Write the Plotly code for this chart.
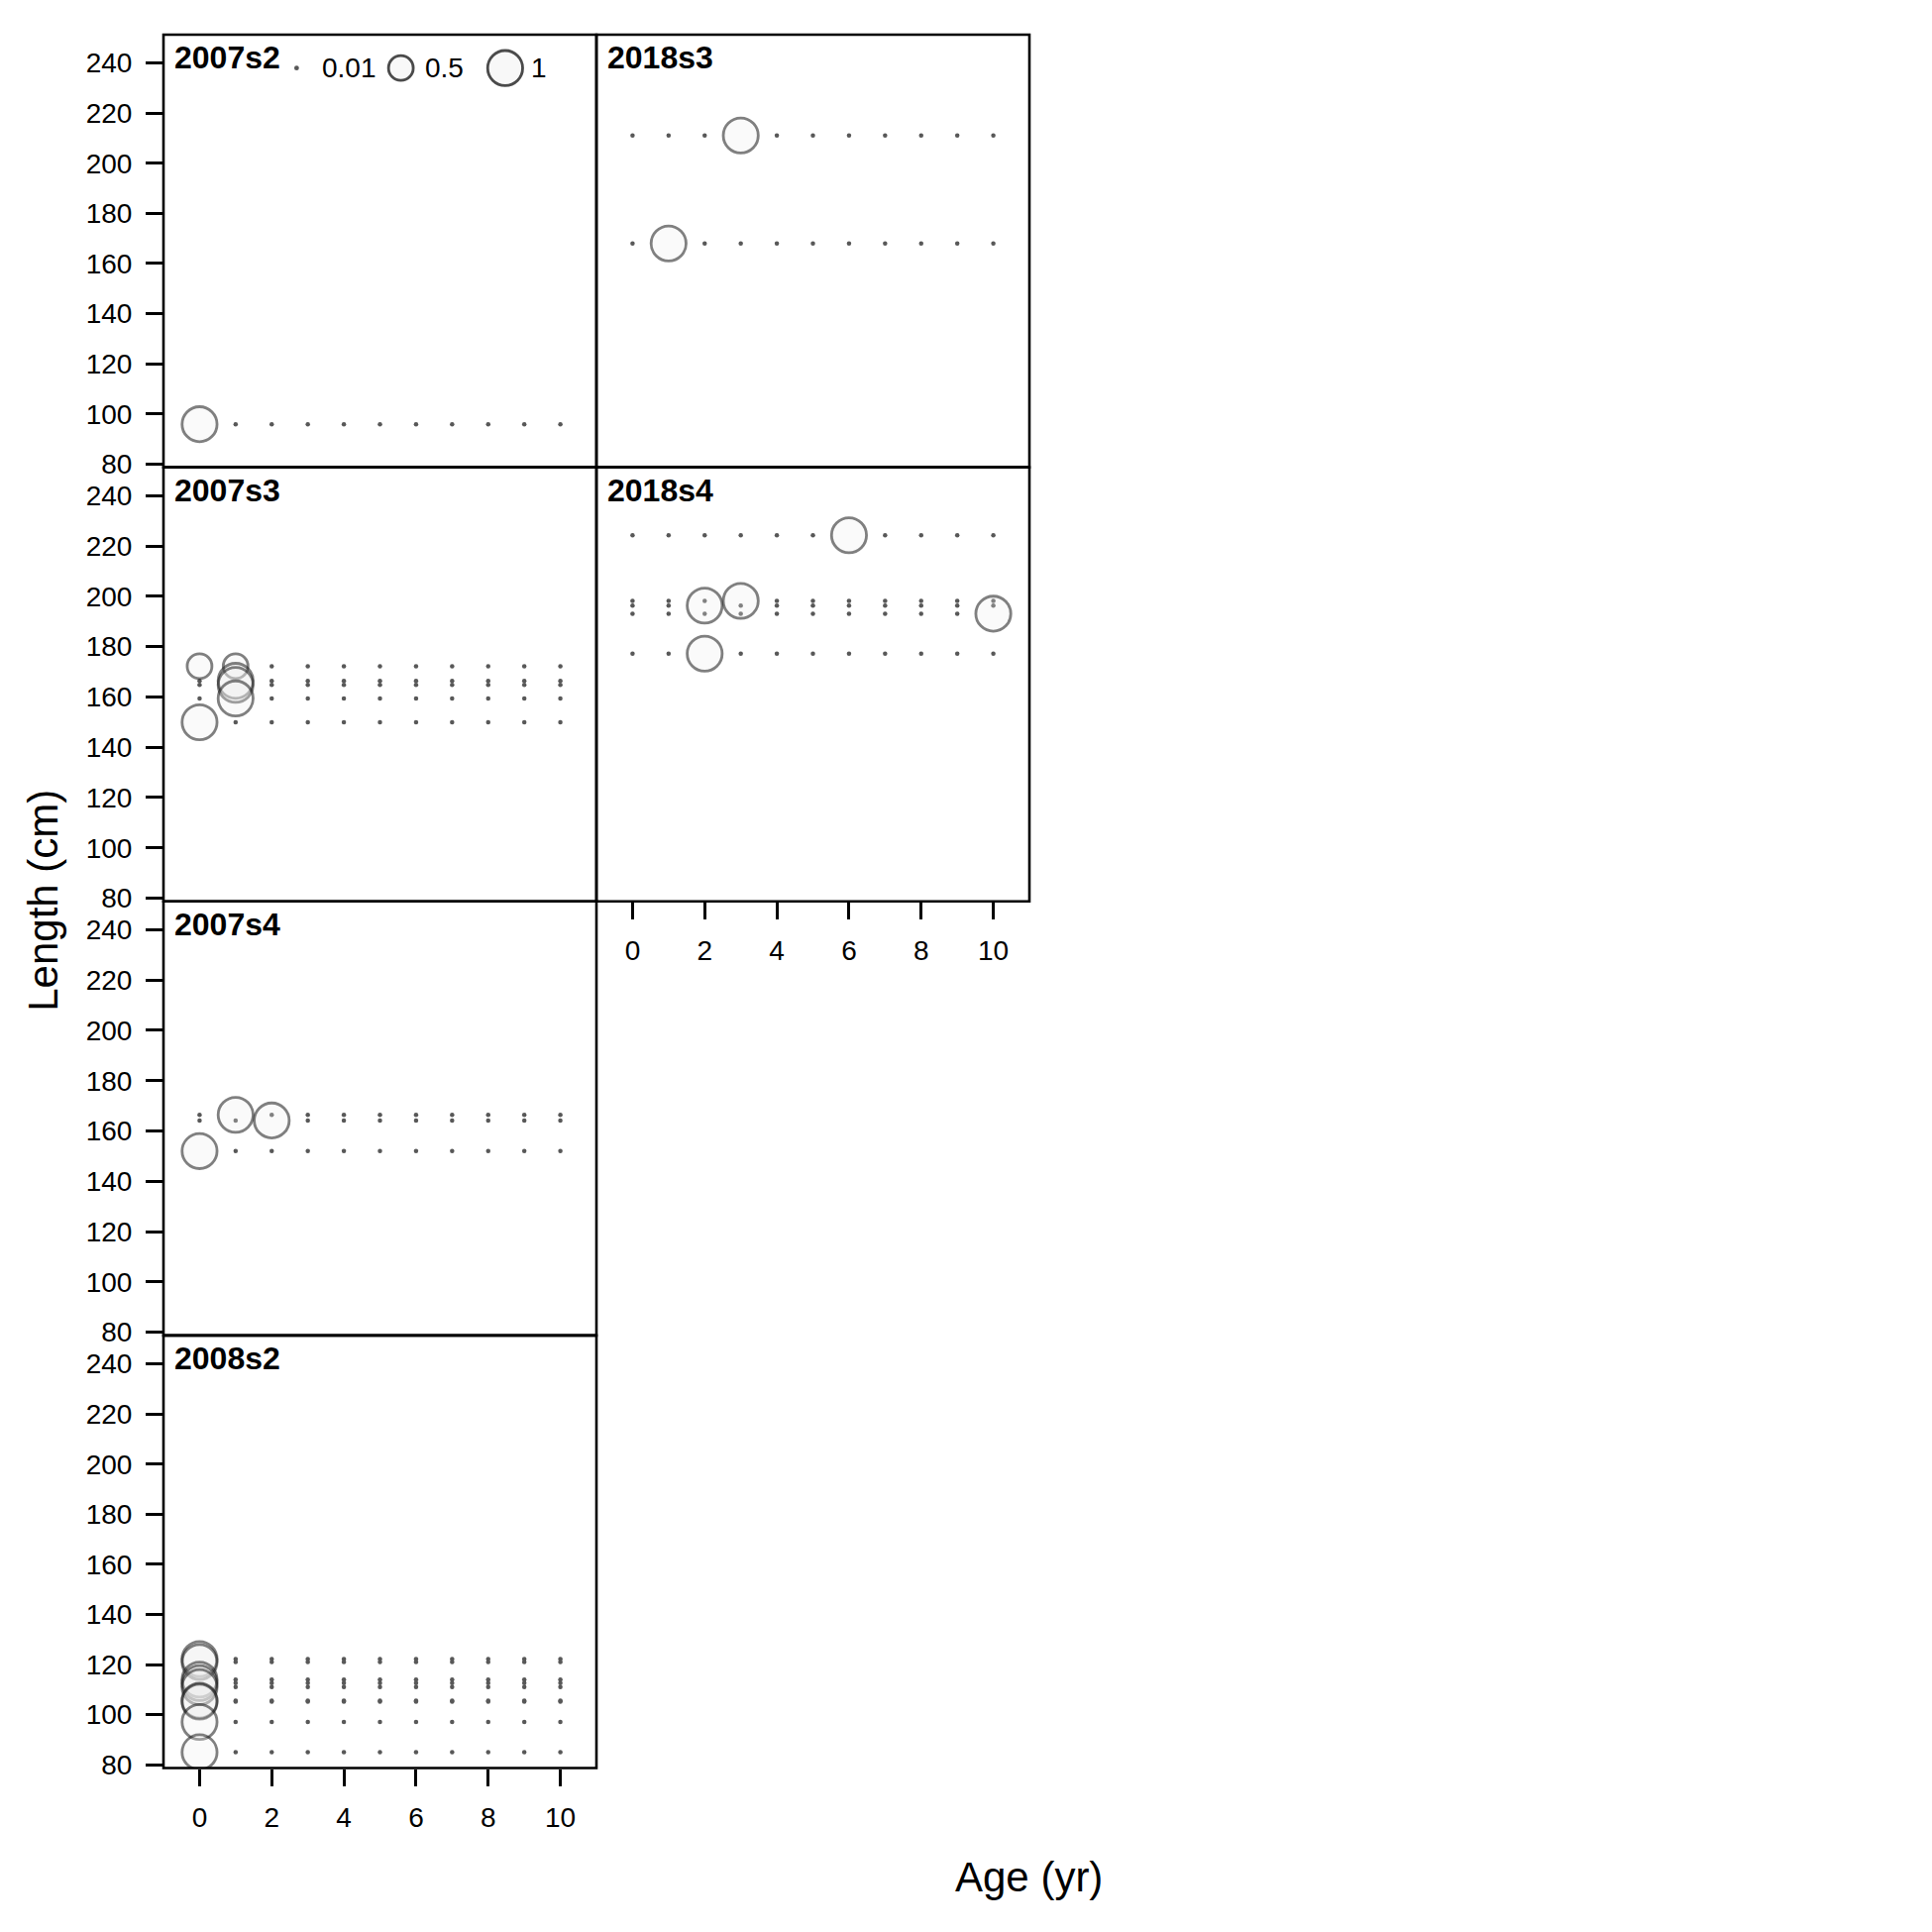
import plotly.graph_objects as go

# ---------------- data ----------------
ages = [0, 1, 2, 3, 4, 5, 6, 7, 8, 9, 10]
panel_names = ["2007s2", "2007s3", "2007s4", "2008s2", "2018s3", "2018s4"]

len_2007s2 = [95.9]
prop_2007s2 = [[1, 0, 0, 0, 0, 0, 0, 0, 0, 0, 0]]

len_2007s3 = [172.2, 166.4, 164.8, 159.4, 149.9]
prop_2007s3 = [
    [0.5, 0.5, 0, 0, 0, 0, 0, 0, 0, 0, 0],
    [0, 1, 0, 0, 0, 0, 0, 0, 0, 0, 0],
    [0, 1, 0, 0, 0, 0, 0, 0, 0, 0, 0],
    [0, 1, 0, 0, 0, 0, 0, 0, 0, 0, 0],
    [1, 0, 0, 0, 0, 0, 0, 0, 0, 0, 0],
]

len_2007s4 = [166.4, 164.2, 152.0]
prop_2007s4 = [
    [0, 1, 0, 0, 0, 0, 0, 0, 0, 0, 0],
    [0, 0, 1, 0, 0, 0, 0, 0, 0, 0, 0],
    [1, 0, 0, 0, 0, 0, 0, 0, 0, 0, 0],
]

len_2008s2 = [122.2, 121.0, 114.0, 112.6, 111.0, 105.6, 105.2, 97.1, 85.0]
prop_2008s2 = [[1, 0, 0, 0, 0, 0, 0, 0, 0, 0, 0] for _ in len_2008s2]

len_2018s3 = [211.1, 168.0]
prop_2018s3 = [
    [0, 0, 0, 1, 0, 0, 0, 0, 0, 0, 0],
    [0, 1, 0, 0, 0, 0, 0, 0, 0, 0, 0],
]

len_2018s4 = [224.3, 198.2, 196.3, 193.1, 177.2]
prop_2018s4 = [
    [0, 0, 0, 0, 0, 0, 1, 0, 0, 0, 0],
    [0, 0, 0, 1, 0, 0, 0, 0, 0, 0, 0],
    [0, 0, 1, 0, 0, 0, 0, 0, 0, 0, 0],
    [0, 0, 0, 0, 0, 0, 0, 0, 0, 0, 1],
    [0, 0, 1, 0, 0, 0, 0, 0, 0, 0, 0],
]

legend_values = [0.01, 0.5, 1]
legend_labels = ["0.01", "0.5", "1"]

x_ticks = [0, 2, 4, 6, 8, 10]
y_ticks = [80, 100, 120, 140, 160, 180, 200, 220, 240]

panel_lengths = [len_2007s2, len_2007s3, len_2007s4, len_2008s2, len_2018s3, len_2018s4]
panel_props = [prop_2007s2, prop_2007s3, prop_2007s4, prop_2008s2, prop_2018s3, prop_2018s4]

# ---------------- layout geometry ----------------
W = 1950
H = 1950
KY = 1.0065  # vertical correction factor
col_x = [(165, 602), (602, 1039)]
row_y = [(35, 471.5), (471.5, 909.5), (909.5, 1347.5), (1347.5, 1784)]
panel_pos = [(0, 0), (0, 1), (0, 2), (0, 3), (1, 0), (1, 1)]
bottom_panels = {3, 5}
left_panels = {0, 1, 2, 3}

XR = [-1, 11]
YR = [78.7, 251.3]
FONT = "Liberation Sans, Arial, sans-serif"
LINE_COL = "rgba(30,30,30,0.8)"
FILL_COL = "rgba(238,238,238,0.4)"
DOT_COL = "rgb(88,88,88)"
FULL = 35.3


def py(y):
    return 1 - y * KY / H


def px(x):
    return x / W


def bsize(p):
    return FULL * p ** 0.5


fig = go.Figure()
layout = dict(
    width=W, height=H, margin=dict(l=0, r=0, t=0, b=0),
    paper_bgcolor="white", plot_bgcolor="white", showlegend=False,
    font=dict(family=FONT, color="black", size=28),
)
annotations = []
shapes = []

for i, name in enumerate(panel_names):
    c, r = panel_pos[i]
    sfx = "" if i == 0 else str(i + 1)
    xa, ya = "x" + sfx, "y" + sfx
    x0, x1 = col_x[c]
    y0, y1 = row_y[r]
    bottom = i in bottom_panels
    left = i in left_panels
    layout["xaxis" + sfx] = dict(
        domain=[px(x0), px(x1)], range=XR, anchor=ya,
        showgrid=False, zeroline=False, showline=False,
        ticks="outside" if bottom else "", tickvals=x_ticks, ticklen=17,
        tickwidth=2.5, tickcolor="black", showticklabels=bottom,
        tickfont=dict(size=28, family=FONT), ticklabelstandoff=8,
    )
    layout["yaxis" + sfx] = dict(
        domain=[py(y1), py(y0)], range=YR, anchor=xa,
        showgrid=False, zeroline=False, showline=False,
        ticks="outside" if left else "", tickvals=y_ticks, ticklen=17,
        tickwidth=2.5, tickcolor="black", showticklabels=left,
        tickfont=dict(size=28, family=FONT), ticklabelstandoff=8,
    )
    shapes.append(dict(type="rect", xref="paper", yref="paper",
                       x0=px(x0), x1=px(x1), y0=py(y1), y1=py(y0),
                       line=dict(color="black", width=2.6), layer="above"))

    lens = panel_lengths[i]
    props = panel_props[i]
    dx, dy, bx, by, bs = [], [], [], [], []
    for L, row in zip(lens, props):
        for a, p in zip(ages, row):
            if p <= 0.01:
                dx.append(a)
                dy.append(L)
            else:
                bx.append(a)
                by.append(L)
                bs.append(bsize(p))
    fig.add_trace(go.Scatter(
        x=dx, y=dy, mode="markers", xaxis=xa, yaxis=ya,
        marker=dict(size=4.5, color=DOT_COL, line=dict(width=0)),
        hoverinfo="skip"))
    fig.add_trace(go.Scatter(
        x=bx, y=by, mode="markers", xaxis=xa, yaxis=ya,
        marker=dict(size=bs, color=FILL_COL, line=dict(width=2.8, color=LINE_COL)),
        hoverinfo="skip"))

    annotations.append(dict(
        text="<b>" + name + "</b>", xref="paper", yref="paper",
        x=px(x0 + 9), y=py(y0 + 3), xanchor="left", yanchor="top",
        showarrow=False, font=dict(size=32, family=FONT, color="black")))

# ---------------- legend (inside first panel) ----------------
leg_x_mark = [2.69, 5.58, 8.47]
leg_x_text = [3.40, 6.26, 9.19]
leg_y = 238.0
for v, lab, xm, xt in zip(legend_values, legend_labels, leg_x_mark, leg_x_text):
    if v <= 0.01:
        mk = dict(size=4.8, color=DOT_COL, line=dict(width=0))
    else:
        mk = dict(size=bsize(v), color=FILL_COL, line=dict(width=2.8, color=LINE_COL))
    fig.add_trace(go.Scatter(x=[xm], y=[leg_y], mode="markers", xaxis="x", yaxis="y",
                             marker=mk, hoverinfo="skip"))
    annotations.append(dict(text=lab, xref="x", yref="y", x=xt, y=leg_y,
                            xanchor="left", yanchor="middle", showarrow=False,
                            xshift=-2, font=dict(size=28, family=FONT, color="black")))

# ---------------- axis titles ----------------
annotations.append(dict(text="Age (yr)", xref="paper", yref="paper",
                        x=px(1038), y=py(1894), xanchor="center", yanchor="middle",
                        showarrow=False, font=dict(size=42, family=FONT, color="black")))
annotations.append(dict(text="Length (cm)", xref="paper", yref="paper",
                        x=px(43.5), y=py(909), xanchor="center", yanchor="middle",
                        textangle=-90, showarrow=False,
                        font=dict(size=42, family=FONT, color="black")))

layout["annotations"] = annotations
layout["shapes"] = shapes
fig.update_layout(**layout)
fig.write_html("out.html")
